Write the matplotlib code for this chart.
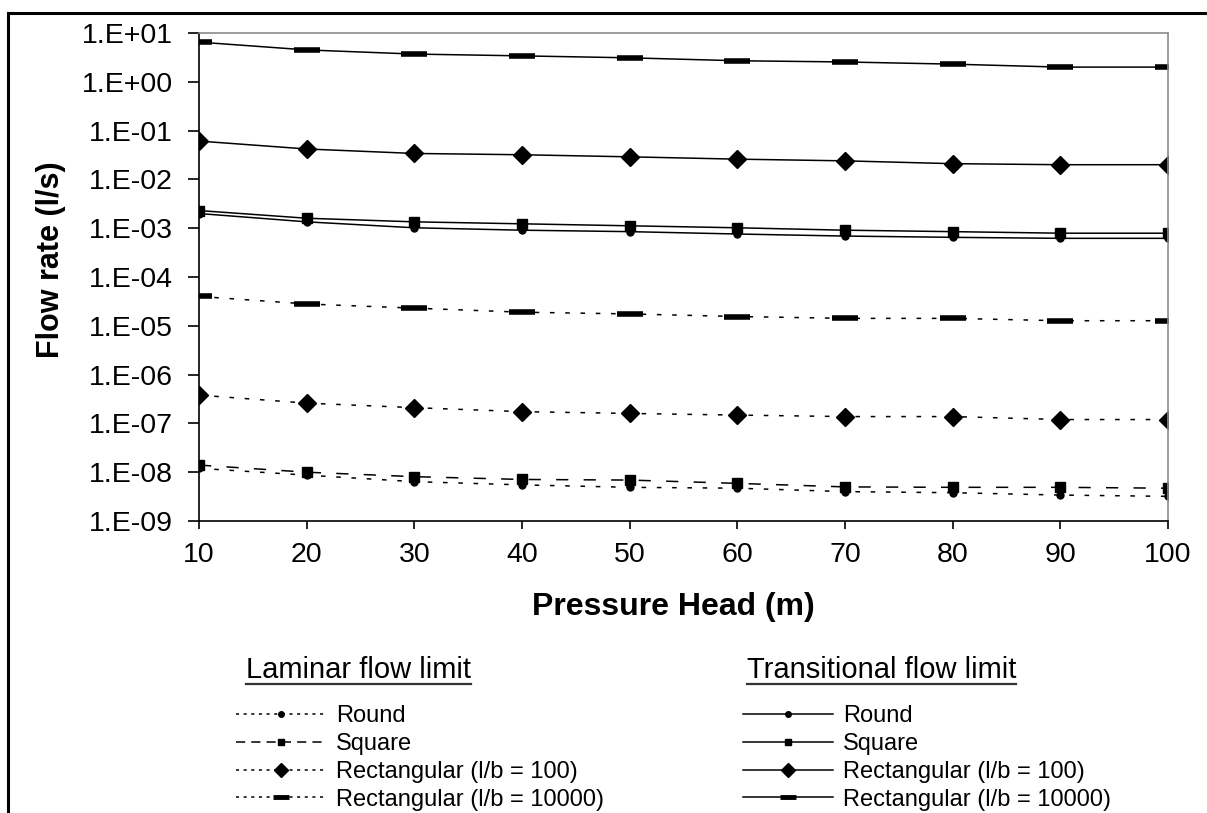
import math
import matplotlib
matplotlib.use("Agg")
import matplotlib.pyplot as plt
from matplotlib.lines import Line2D
from matplotlib.ticker import FixedLocator, FuncFormatter, NullLocator

plt.rcParams['font.family'] = ['Liberation Sans', 'DejaVu Sans']

# pressure head (m)
head = [10, 20, 30, 40, 50, 60, 70, 80, 90, 100]

# transitional flow limit, flow rate (l/s)
trans_round = [2.0e-3, 1.35e-3, 1.02e-3, 9.1e-4, 8.5e-4, 7.6e-4, 6.9e-4, 6.5e-4, 6.2e-4, 6.2e-4]
trans_square = [2.3e-3, 1.6e-3, 1.35e-3, 1.23e-3, 1.12e-3, 1.02e-3, 9.1e-4, 8.5e-4, 7.9e-4, 7.9e-4]
trans_rect100 = [6.1e-2, 4.2e-2, 3.4e-2, 3.2e-2, 2.9e-2, 2.6e-2, 2.4e-2, 2.1e-2, 2.0e-2, 2.0e-2]
trans_rect10000 = [6.5, 4.5, 3.7, 3.4, 3.1, 2.7, 2.55, 2.3, 2.0, 2.0]

# laminar flow limit, flow rate (l/s)
lam_round = [1.2e-8, 8.7e-9, 6.4e-9, 5.5e-9, 4.9e-9, 4.7e-9, 4.0e-9, 3.8e-9, 3.4e-9, 3.2e-9]
lam_square = [1.4e-8, 1.0e-8, 8.1e-9, 7.1e-9, 6.9e-9, 5.9e-9, 5.0e-9, 4.9e-9, 4.9e-9, 4.7e-9]
lam_rect100 = [3.8e-7, 2.6e-7, 2.1e-7, 1.74e-7, 1.6e-7, 1.48e-7, 1.38e-7, 1.38e-7, 1.2e-7, 1.2e-7]
lam_rect10000 = [4.0e-5, 2.8e-5, 2.3e-5, 1.9e-5, 1.75e-5, 1.55e-5, 1.42e-5, 1.42e-5, 1.27e-5, 1.27e-5]

y_decades = [1e-9, 1e-8, 1e-7, 1e-6, 1e-5, 1e-4, 1e-3, 1e-2, 1e-1, 1e0, 1e1]

labels = ["Round", "Square", "Rectangular (l/b = 100)", "Rectangular (l/b = 10000)"]

fig = plt.figure(figsize=(12.07, 8.13), dpi=100)
ax = fig.add_axes([199 / 1207, 1 - 521 / 813, (1168 - 199) / 1207, (521 - 33) / 813])

dotted = (0, (3, 7))
dashed = (0, (8, 10))
lw = 1.1

# laminar series
ax.plot(head, lam_round, color='black', lw=lw, ls=dotted, marker='o', ms=5)
ax.plot(head, lam_square, color='black', lw=lw, ls=dashed, marker='s', ms=7.5)
ax.plot(head, lam_rect100, color='black', lw=lw, ls=dotted, marker='D', ms=9)
ax.plot(head, lam_rect10000, color='black', lw=lw, ls=dotted, marker='_', ms=19, mew=4)

# transitional series
ax.plot(head, trans_round, color='black', lw=lw, marker='o', ms=5)
ax.plot(head, trans_square, color='black', lw=lw, marker='s', ms=7.5)
ax.plot(head, trans_rect100, color='black', lw=lw, marker='D', ms=9)
ax.plot(head, trans_rect10000, color='black', lw=lw, marker='_', ms=19, mew=4)

ax.set_yscale('log')
ax.set_xlim(10, 100)
ax.set_ylim(1e-9, 1e1)
ax.xaxis.set_major_locator(FixedLocator(head))
ax.yaxis.set_major_locator(FixedLocator(y_decades))
ax.yaxis.set_minor_locator(NullLocator())
ax.yaxis.set_major_formatter(FuncFormatter(lambda v, p: "1.E%+03d" % round(math.log10(v))))

for s in ('top', 'right'):
    ax.spines[s].set_color('#8c8c8c')
    ax.spines[s].set_linewidth(1.2)
for s in ('left', 'bottom'):
    ax.spines[s].set_color('black')
    ax.spines[s].set_linewidth(1.2)

ax.tick_params(axis='y', direction='out', length=8, width=1.2, pad=11, labelsize=20.5)
ax.tick_params(axis='x', direction='out', length=6, width=1.2, pad=9, labelsize=20.5)

ax.set_ylabel("Flow rate (l/s)", fontsize=22, fontweight='bold')
ax.yaxis.set_label_coords(-0.137, 0.536)
ax.set_xlabel("Pressure Head (m)", fontsize=23, fontweight='bold')
ax.xaxis.set_label_coords(0.49, -0.146)

# legend handles
def handle(ls, marker, ms, mew=1.0):
    return Line2D([], [], color='black', lw=1.1, ls=ls, marker=marker, ms=ms, mew=mew)

lam_handles = [handle((0, (2, 3)), 'o', 4), handle((0, (6, 4)), 's', 4.5),
               handle((0, (2, 3)), 'D', 7), handle((0, (2, 3)), '_', 12, 3.5)]
trans_handles = [handle('-', 'o', 4), handle('-', 's', 4.5),
                 handle('-', 'D', 7), handle('-', '_', 12, 3.5)]

leg_kw = dict(frameon=False, fontsize=17, handlelength=3.8, handletextpad=0.42,
              labelspacing=0.25, borderpad=0, borderaxespad=0, loc='upper left')
leg1 = fig.legend(lam_handles, labels, bbox_to_anchor=(236 / 1207, 1 - 705 / 813), **leg_kw)
leg2 = fig.legend(trans_handles, labels, bbox_to_anchor=(743 / 1207, 1 - 705 / 813), **leg_kw)

t1 = fig.text(246 / 1207, 1 - 678 / 813, "Laminar flow limit", fontsize=21, va='baseline')
t2 = fig.text(747 / 1207, 1 - 678 / 813, "Transitional flow limit", fontsize=21, va='baseline')

# underline the legend headings
fig.canvas.draw()
renderer = fig.canvas.get_renderer()
for t in (t1, t2):
    bb = t.get_window_extent(renderer).transformed(fig.transFigure.inverted())
    fig.add_artist(Line2D([bb.x0, bb.x1], [1 - 684 / 813] * 2, color='#333333', lw=1.6,
                          transform=fig.transFigure))

# outer border (top and left only)
fig.add_artist(Line2D([8 / 1207, 1.0], [1 - 13 / 813] * 2, color='black', lw=2.2,
                      transform=fig.transFigure))
fig.add_artist(Line2D([8 / 1207] * 2, [0.0, 1 - 13 / 813], color='black', lw=2.2,
                      transform=fig.transFigure))

fig.savefig("out.png", dpi=100)
